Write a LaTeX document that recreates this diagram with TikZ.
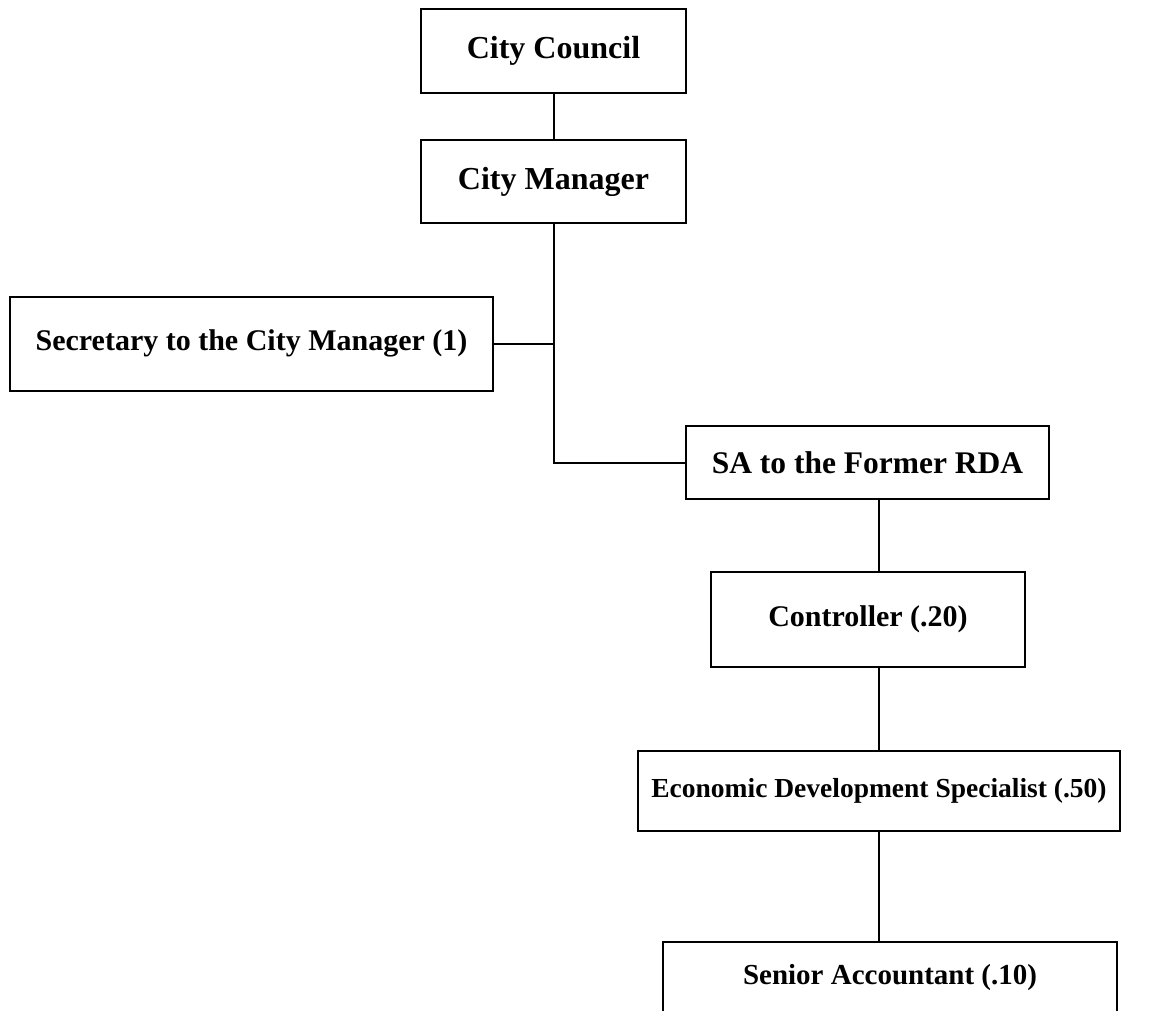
\documentclass[tikz,border=0pt]{standalone}
\usepackage{fontspec}
\setmainfont{Liberation Serif}
\begin{document}
\begin{tikzpicture}[x=1pt,y=-1pt,
  post/.style={draw, line width=2pt, rectangle, inner sep=0pt,
    font=\fontsize{30}{36}\selectfont\bfseries},
  bigtext/.style={font=\fontsize{32}{38}\selectfont\bfseries},
  link/.style={line width=2pt}]
\clip (0,0) rectangle (1168,1010);
\fill[white] (0,0) rectangle (1168,1010);
% boxes
\node[post, bigtext, minimum width=265pt, minimum height=84pt] (cc)  at (553.5,51)  {City Council};
\node[post, bigtext, minimum width=265pt, minimum height=83pt] (cm)  at (553.5,181.5) {City Manager};
\node[post, minimum width=483pt, minimum height=94pt] (sec) at (251.5,343.5) {Secretary to the City Manager (1)};
\node[post, font=\fontsize{31.5}{38}\selectfont\bfseries, minimum width=363pt, minimum height=73pt] (sa)  at (867.5,462.5) {SA to the Former RDA};
\node[post, minimum width=314pt, minimum height=95pt] (ctl) at (868,619.5) {Controller (.20)};
\node[post, font=\fontsize{27.5}{33}\selectfont\bfseries, minimum width=482pt, minimum height=80pt] (eco) at (879,791) {Economic Development Specialist (.50)};
\node[post, font=\fontsize{29}{35}\selectfont\bfseries, minimum width=454pt, minimum height=72pt] (sac) at (890,978) {Senior Accountant (.10)};
\coordinate (trunk) at (cm.south |- sa.west);
% connectors
\draw[link] (cc.south) -- (cm.north);
\draw[link, line join=miter] (cm.south) -- (trunk) -- (sa.west);
\draw[link] (sec.east) -- (sec.east -| trunk);
\draw[link] (sa.south -| eco.north) -- (ctl.north -| eco.north);
\draw[link] (ctl.south -| eco.north) -- (eco.north);
\draw[link] (eco.south) -- (sac.north -| eco.south);
\end{tikzpicture}
\end{document}
